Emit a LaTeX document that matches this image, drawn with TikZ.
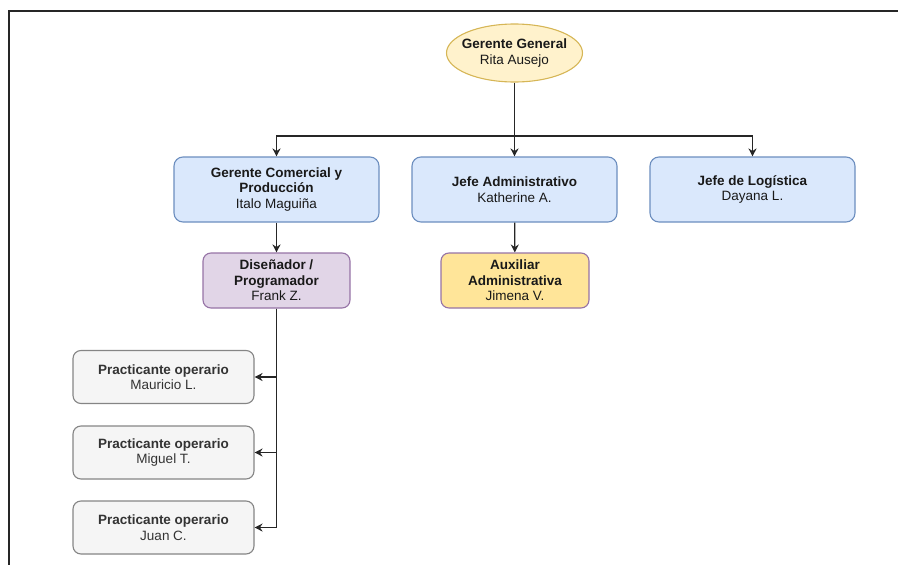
\documentclass[tikz,border=0pt]{standalone}
\usepackage{fontspec}
\setmainfont{Liberation Sans}
\usetikzlibrary{shapes.geometric,arrows.meta}
\definecolor{blueF}{HTML}{DAE8FC}
\definecolor{blueD}{HTML}{6C8EBF}
\definecolor{yelF}{HTML}{FFF2CC}
\definecolor{yelD}{HTML}{D6B656}
\definecolor{purF}{HTML}{E1D5E7}
\definecolor{purD}{HTML}{9673A6}
\definecolor{audF}{HTML}{FFE599}
\definecolor{gryF}{HTML}{F5F5F5}
\definecolor{gryD}{HTML}{666666}
\definecolor{gryT}{HTML}{333333}
\tikzset{
  base/.style={align=center, inner sep=0pt, font=\fontsize{13.5}{15.5}\selectfont, text=black!90, line width=1.1pt},
  bluebox/.style={base, rectangle, rounded corners=9pt, draw=blueD, fill=blueF, minimum width=205pt, minimum height=65pt},
  purbox/.style={base, rectangle, rounded corners=8pt, draw=purD, fill=purF, minimum width=147pt, minimum height=55pt},
  yelbox/.style={base, rectangle, rounded corners=8pt, draw=purD, fill=audF, minimum width=148pt, minimum height=55pt},
  grybox/.style={base, rectangle, rounded corners=8pt, draw=gryD!80, fill=gryF, text=gryT, minimum width=181pt, minimum height=53pt},
  topell/.style={base, ellipse, inner xsep=-7pt, inner ysep=0pt, draw=yelD, fill=yelF, minimum width=136pt, minimum height=58pt},
  arr/.style={-{Stealth[length=8pt,width=8pt]}, line width=1.3pt, draw=black!85},
  frame/.style={line width=2pt, draw=black!85}
}
\begin{document}
\begin{tikzpicture}[x=1pt,y=-1pt]
\useasboundingbox (0,0) rectangle (898,565);
\coordinate (ftl) at (9,11);
\coordinate (ftr) at (898,11);
\coordinate (fbl) at (9,565);
\draw[frame] (fbl) -- (ftl) -- (ftr);

\node[topell] (gg) at (514.5,53) {\textbf{Gerente General}\\Rita Ausejo};
\node[bluebox] (gc) at (276.5,189.5) {\textbf{Gerente Comercial y}\\\textbf{Producción}\\Italo Maguiña};
\node[bluebox] (ja) at (514.5,189.5) {\textbf{Jefe Administrativo}\\Katherine A.};
\node[bluebox] (jl) at (752.5,189.5) {\textbf{Jefe de Logística}\\Dayana L.};
\node[purbox] (dp) at (276.5,280.5) {\textbf{Diseñador /}\\\textbf{Programador}\\Frank Z.};
\node[yelbox] (ax) at (515,280.5) {\textbf{Auxiliar}\\\textbf{Administrativa}\\Jimena V.};
\node[grybox] (p1) at (163.5,377) {\textbf{Practicante operario}\\Mauricio L.};
\node[grybox] (p2) at (163.5,452.5) {\textbf{Practicante operario}\\Miguel T.};
\node[grybox] (p3) at (163.5,527.5) {\textbf{Practicante operario}\\Juan C.};

\coordinate (bus) at (514.5,136);
\draw[arr] (gg) -- (ja);
\draw[arr] (bus) -| (gc);
\draw[arr] (bus) -| (jl);
\draw[arr] (gc) -- (dp);
\draw[arr] (ja) -- (ax);
\draw[arr] (dp.south) |- (p1.east);
\draw[arr] (dp.south) |- (p2.east);
\draw[arr] (dp.south) |- (p3.east);
\end{tikzpicture}
\end{document}
